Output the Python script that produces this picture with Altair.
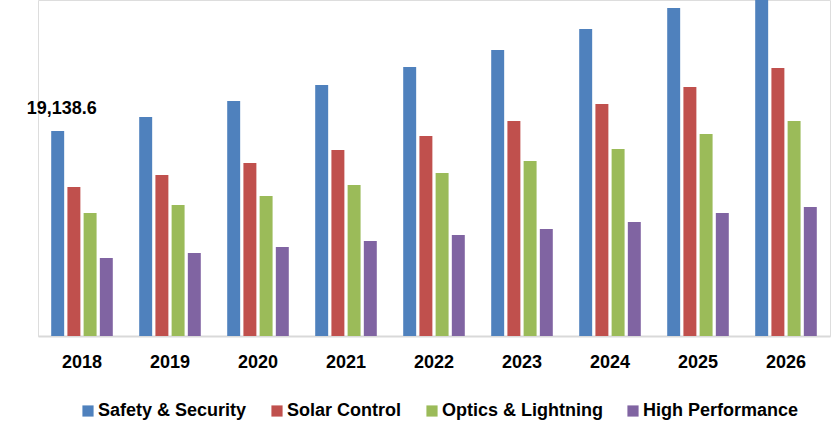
import altair as alt
import pandas as pd

years = ["2018", "2019", "2020", "2021", "2022", "2023", "2024", "2025", "2026"]
series = ["Safety & Security", "Solar Control", "Optics & Lightning", "High Performance"]
safety = [19138.6, 20450, 21940, 23430, 25110, 26700, 28660, 30620, 32700]
solar = [13910, 15030, 16150, 17360, 18670, 20070, 21660, 23250, 25020]
optics = [11480, 12230, 13070, 14100, 15220, 16340, 17460, 18860, 20070]
high = [7280, 7750, 8310, 8870, 9430, 9990, 10640, 11480, 12040]
colors = ["#4F81BD", "#C0504D", "#9BBB59", "#8064A2"]

rows = []
for name, vals in zip(series, [safety, solar, optics, high]):
    for y, v in zip(years, vals):
        rows.append({"Year": y, "Segment": name, "Value": v})
df = pd.DataFrame(rows)

label_df = pd.DataFrame([{"Year": years[0], "Segment": series[0], "Value": safety[0],
                          "Label": f"{safety[0]:,.1f}"}])

FONT = "Liberation Sans"

x_enc = alt.X("Year:N", sort=years,
              scale=alt.Scale(paddingInner=0.3, paddingOuter=0.15),
              axis=alt.Axis(title=None, labelAngle=0, ticks=False, domainColor="#D9D9D9",
                            domainWidth=2, labelFont=FONT, labelFontSize=18,
                            labelFontWeight="bold", labelColor="#000000", labelPadding=17))
xoff = alt.XOffset("Segment:N", sort=series,
                   scale=alt.Scale(paddingInner=0.2, paddingOuter=0))
y_enc = alt.Y("Value:Q", scale=alt.Scale(domain=[0, 31370], nice=False, zero=True), axis=None)

bars = alt.Chart(df).mark_bar(clip=True).encode(
    x=x_enc,
    xOffset=xoff,
    y=y_enc,
    color=alt.Color("Segment:N", sort=series,
                    scale=alt.Scale(domain=series, range=colors),
                    legend=alt.Legend(title=None, orient="none", direction="horizontal",
                                      legendX=41, legendY=402, symbolType="square",
                                      symbolSize=125, symbolStrokeWidth=0,
                                      labelFont=FONT, labelFontSize=18,
                                      labelFontWeight="bold", labelColor="#000000",
                                      labelOffset=1, columnPadding=21, padding=0,
                                      labelLimit=300)),
)

text = alt.Chart(label_df).mark_text(font=FONT, fontSize=18, fontWeight="bold",
                                     color="#000000", dx=4, dy=-22, baseline="middle").encode(
    x=alt.X("Year:N", sort=years),
    xOffset=alt.XOffset("Segment:N", sort=series),
    y=alt.Y("Value:Q"),
    text="Label:N",
)

chart = alt.layer(bars, text).properties(
    width=792, height=336,
    autosize=alt.AutoSizeParams(type="none"),
    padding={"left": 38, "top": 0, "right": 2, "bottom": 85},
).configure_view(strokeWidth=0, stroke="transparent").configure(background="#FFFFFF")

chart.save("out.html", embed_options={"renderer": "svg", "actions": False})
